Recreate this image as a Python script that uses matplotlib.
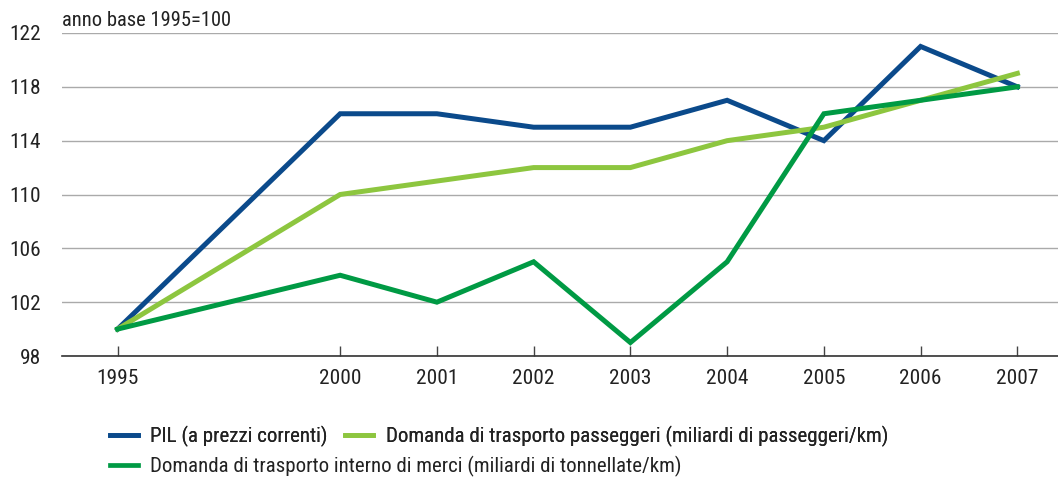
import matplotlib
matplotlib.use("Agg")
import matplotlib.pyplot as plt
from matplotlib.lines import Line2D
from matplotlib import font_manager

years = ["1995", "2000", "2001", "2002", "2003", "2004", "2005", "2006", "2007"]
pil = [100, 116, 116, 115, 115, 117, 114, 121, 118]
passeggeri = [100, 110, 111, 112, 112, 114, 115, 117, 119]
merci = [100, 104, 102, 105, 99, 105, 116, 117, 118]
yticks = [98, 102, 106, 110, 114, 118, 122]

labels = ["PIL (a prezzi correnti)",
          "Domanda di trasporto passeggeri (miliardi di passeggeri/km)",
          "Domanda di trasporto interno di merci (miliardi di tonnellate/km)"]
colors = ["#0b4a8b", "#8dc63f", "#009a44"]

names = {f.name for f in font_manager.fontManager.ttflist}
fam, fs = "DejaVu Sans", 11.5
for cand, size in [("Roboto Condensed", 15.0), ("Archivo Narrow", 15),
                   ("PT Sans Narrow", 15.5), ("Liberation Sans", 12.5)]:
    if cand in names:
        fam, fs = cand, size
        break
plt.rcParams['font.family'] = [fam, 'DejaVu Sans']
tc = "#222222"

# x positions: first year separated by a wider gap (break in the series)
gap = 2.3
xpos = [-gap] + list(range(len(years) - 1))

fig = plt.figure(figsize=(10.58, 4.78), dpi=100)
ax = fig.add_axes([62/1058, 1 - 356/478, 1 - 62/1058, (356 - 33)/478])

for series, c in zip([pil, passeggeri, merci], colors):
    ax.plot(xpos, series, color=c, lw=3.6, solid_joinstyle='miter', zorder=3)

ax.set_xlim(-2.875, 7.42)
ax.set_ylim(98, 122)
ax.set_yticks(yticks)
ax.set_yticklabels([str(v) for v in yticks], fontsize=fs + 0.4, color=tc)
ax.set_xticks(xpos)
ax.set_xticklabels(years, fontsize=fs + 0.4, color=tc)
ax.tick_params(axis='y', length=0, pad=15)
ax.tick_params(axis='x', direction='in', length=7, width=1, color="#444444", pad=9)
for s in ['left', 'right', 'top']:
    ax.spines[s].set_visible(False)
ax.spines['bottom'].set_color("#333333")
ax.spines['bottom'].set_linewidth(1.2)
ax.grid(axis='y', color="#aaaaaa", lw=1)
ax.set_axisbelow(True)

fig.text(62/1058, 1 - 20/478, "anno base 1995=100", fontsize=fs - 0.2, color=tc,
         va='center', ha='left')

handles = [Line2D([], [], color=c, lw=3.4) for c in colors]
common = dict(loc='upper left', frameon=False, fontsize=fs, handlelength=1.33,
              handletextpad=0.6, borderaxespad=0, borderpad=0)
leg1 = fig.legend(handles[:2], labels[:2], ncol=2, columnspacing=0.85,
                  bbox_to_anchor=(110/1058, 1 - 426/478), **common)
leg2 = fig.legend(handles[2:], labels[2:], ncol=1,
                  bbox_to_anchor=(110/1058, 1 - 456/478), **common)
fig.add_artist(leg1)
for lg in (leg1, leg2):
    for t in lg.get_texts():
        t.set_color(tc)

fig.savefig("out.png", dpi=100)
